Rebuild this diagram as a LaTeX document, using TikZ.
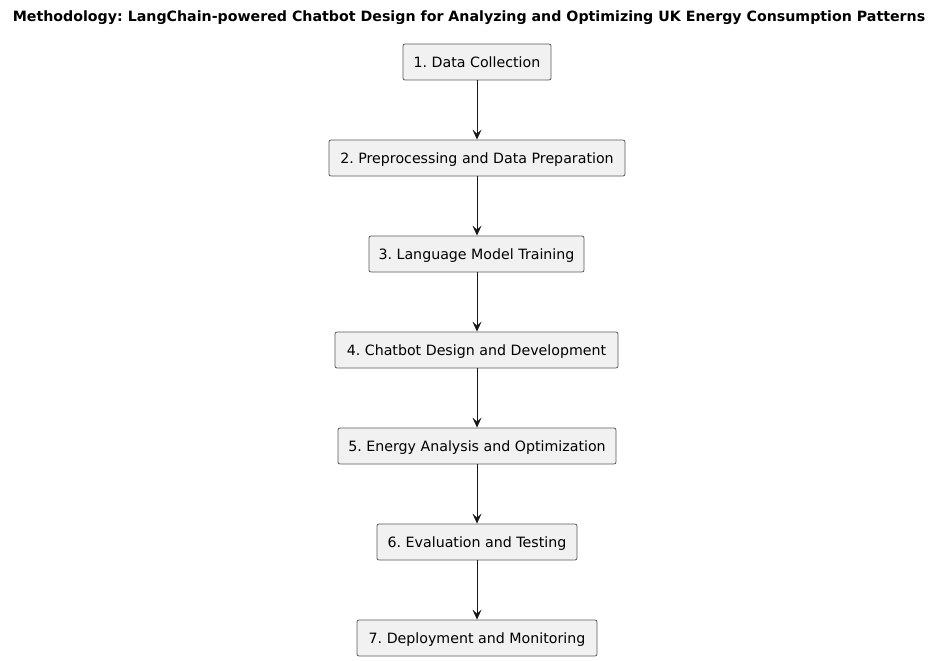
\documentclass[tikz,border=0pt]{standalone}
\usepackage{fontspec}
\setmainfont{DejaVu Sans}
\usetikzlibrary{arrows.meta}
\definecolor{boxfill}{HTML}{F1F1F1}
\definecolor{boxline}{HTML}{5A5A5A}
\definecolor{arrowc}{HTML}{181818}
\tikzset{
  stepbox/.style={draw=boxline, line width=0.8pt, fill=boxfill, rounded corners=2pt,
    minimum height=36pt, inner xsep=0pt, inner ysep=0pt, text height=12pt, text depth=2pt,
    font=\fontsize{14.2pt}{16pt}\selectfont, anchor=center},
  flow/.style={draw=arrowc, line width=1pt, -{Stealth[length=10pt,width=9pt,inset=4pt]}}
}
\begin{document}
\frenchspacing
\begin{tikzpicture}[x=1pt,y=-1pt]
\useasboundingbox (0,0) rectangle (946,661);
\node[font=\bfseries\fontsize{14.2pt}{16pt}\selectfont] (title) at (469,18) {Methodology: LangChain-powered Chatbot Design for Analyzing and Optimizing UK Energy Consumption Patterns};
\node[stepbox, minimum width=148pt] (s1) at (477,62) {1. Data Collection};
\node[stepbox, minimum width=296pt] (s2) at (477,158) {2. Preprocessing and Data Preparation};
\node[stepbox, minimum width=215pt] (s3) at (476.5,254) {3. Language Model Training};
\node[stepbox, minimum width=283pt] (s4) at (476.5,350) {4. Chatbot Design and Development};
\node[stepbox, minimum width=278pt] (s5) at (477,446) {5. Energy Analysis and Optimization};
\node[stepbox, minimum width=200pt] (s6) at (477,542) {6. Evaluation and Testing};
\node[stepbox, minimum width=240pt] (s7) at (477,638) {7. Deployment and Monitoring};
\foreach \a/\b in {s1/s2,s2/s3,s3/s4,s4/s5,s5/s6,s6/s7}
  \draw[flow] (\a.south -| s1.south) -- (\b.north -| s1.south);
\end{tikzpicture}
\end{document}
